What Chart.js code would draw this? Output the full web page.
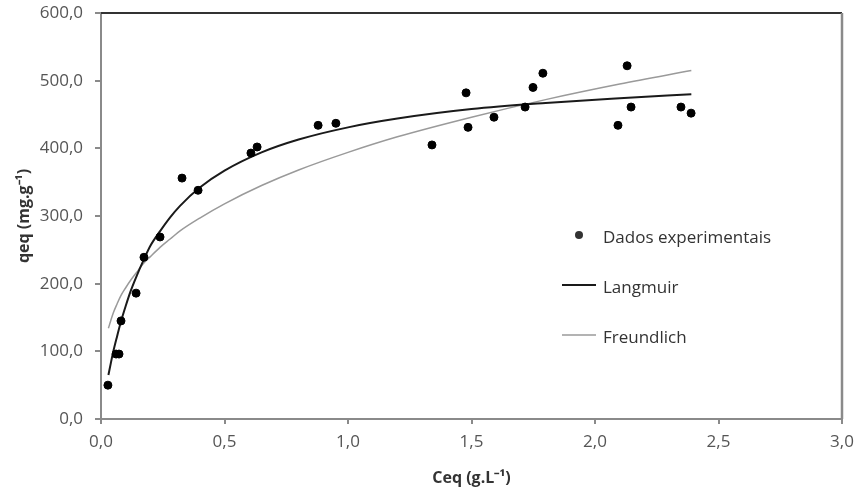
<!DOCTYPE html>
<html>
<head>
<meta charset="utf-8">
<script src="https://cdn.jsdelivr.net/npm/chart.js@4.4.0/dist/chart.umd.min.js"></script>
<style>
  html, body { margin: 0; padding: 0; background: #fff; }
  #wrap { width: 858px; height: 492px; }
</style>
</head>
<body>
<div id="wrap"><canvas id="isoChart" width="858" height="492"></canvas></div>
<script>
// experimental points (Ceq, qeq)
const ceqExp = [0.028, 0.061, 0.073, 0.081, 0.142, 0.174, 0.239, 0.328, 0.393, 0.607, 0.632, 0.879, 0.951,
                1.340, 1.478, 1.486, 1.591, 1.717, 1.749, 1.789, 2.093, 2.130, 2.146, 2.348, 2.389];
const qeqExp = [50, 96, 96, 145, 186, 239, 269, 356, 338, 393, 402, 434, 437,
                405, 482, 431, 446, 461, 490, 511, 434, 522, 461, 461, 452];

// fitted curves
const ceqFit = [0.03, 0.04, 0.05, 0.065, 0.08, 0.10, 0.12, 0.145, 0.17, 0.20, 0.24, 0.28, 0.32, 0.40, 0.50, 0.65, 0.80, 1.00, 1.20, 1.50, 1.80, 2.10, 2.39];
const qLangmuir = [65, 83, 100, 122, 143, 167, 189, 212, 233, 256, 278, 298, 315, 342, 367, 394, 413, 431, 444, 458, 467, 474, 480];
const qFreundlich = [134, 146, 157, 170, 182, 194, 205, 217, 229, 240, 254, 266, 278, 297, 318, 345, 368, 394, 417, 446, 472, 495, 515];

const legendItems = ["Dados experimentais", "Langmuir", "Freundlich"];

const toXY = (xs, ys) => xs.map((v, i) => ({ x: v, y: ys[i] }));
const fmt = v => v.toFixed(1).replace(".", ",");

// frame on top/right + legend inside the plot
const framePlugin = {
  id: "frame",
  afterDraw(chart) {
    const { ctx, chartArea: a } = chart;
    ctx.save();
    ctx.strokeStyle = "#333";
    ctx.lineWidth = 2;
    ctx.beginPath();
    ctx.moveTo(a.left, a.top);
    ctx.lineTo(a.right, a.top);
    ctx.stroke();
    ctx.strokeStyle = "#8a8a8a";
    ctx.lineWidth = 2.5;
    ctx.beginPath();
    ctx.moveTo(a.right, a.top);
    ctx.lineTo(a.right, a.bottom);
    ctx.stroke();

    // legend
    ctx.font = "17px 'Open Sans'";
    ctx.fillStyle = "#333";
    ctx.textBaseline = "middle";
    ctx.textAlign = "left";
    ctx.beginPath();
    ctx.arc(579, 235, 4, 0, Math.PI * 2);
    ctx.fill();
    ctx.fillText(legendItems[0], 603, 238);

    ctx.strokeStyle = "#1a1a1a";
    ctx.lineWidth = 2;
    ctx.beginPath();
    ctx.moveTo(562, 285);
    ctx.lineTo(596, 285);
    ctx.stroke();
    ctx.fillText(legendItems[1], 603, 288);

    ctx.strokeStyle = "#9a9a9a";
    ctx.lineWidth = 1.5;
    ctx.beginPath();
    ctx.moveTo(562, 335);
    ctx.lineTo(596, 335);
    ctx.stroke();
    ctx.fillText(legendItems[2], 603, 338);
    ctx.restore();
  }
};

new Chart(document.getElementById("isoChart"), {
  type: "scatter",
  data: {
    datasets: [
      {
        label: legendItems[0],
        data: toXY(ceqExp, qeqExp),
        backgroundColor: "#000",
        borderColor: "#000",
        pointRadius: 4,
        order: 0
      },
      {
        label: legendItems[1],
        type: "line",
        data: toXY(ceqFit, qLangmuir),
        borderColor: "#1a1a1a",
        borderWidth: 2,
        pointRadius: 0,
        cubicInterpolationMode: "monotone",
        fill: false,
        order: 1
      },
      {
        label: legendItems[2],
        type: "line",
        data: toXY(ceqFit, qFreundlich),
        borderColor: "#9a9a9a",
        borderWidth: 1.5,
        pointRadius: 0,
        cubicInterpolationMode: "monotone",
        fill: false,
        order: 2
      }
    ]
  },
  options: {
    responsive: false,
    animation: false,
    layout: { padding: { top: 13, right: 16, left: 0, bottom: 0 } },
    plugins: { legend: { display: false }, tooltip: { enabled: false } },
    scales: {
      x: {
        type: "linear",
        min: 0,
        max: 3,
        afterFit: s => { s.height = 73; s.paddingLeft = 0; s.paddingRight = 0; },
        border: { color: "#8a8a8a", width: 2 },
        grid: { drawOnChartArea: false, tickLength: 5, color: "#8a8a8a", lineWidth: 2 },
        ticks: {
          stepSize: 0.5,
          padding: 8,
          color: "#555",
          font: { family: "Open Sans", size: 17 },
          callback: v => fmt(v)
        },
        title: {
          display: true,
          text: "Ceq (g.L⁻¹)",
          color: "#333",
          font: { family: "Open Sans", size: 16, weight: "bold" },
          padding: { top: 0, bottom: 4 }
        }
      },
      y: {
        type: "linear",
        min: 0,
        max: 600,
        afterFit: s => { s.width = 101; s.paddingTop = 0; s.paddingBottom = 0; },
        border: { color: "#8a8a8a", width: 2 },
        grid: { drawOnChartArea: false, tickLength: 6, color: "#8a8a8a", lineWidth: 2 },
        ticks: {
          stepSize: 100,
          padding: 12,
          color: "#555",
          font: { family: "Open Sans", size: 17 },
          callback: v => fmt(v)
        },
        title: {
          display: true,
          text: "qeq (mg.g⁻¹)",
          color: "#333",
          font: { family: "Open Sans", size: 16, weight: "bold" },
          padding: { top: 15, bottom: 0 }
        }
      }
    }
  },
  plugins: [framePlugin]
});
</script>
</body>
</html>
